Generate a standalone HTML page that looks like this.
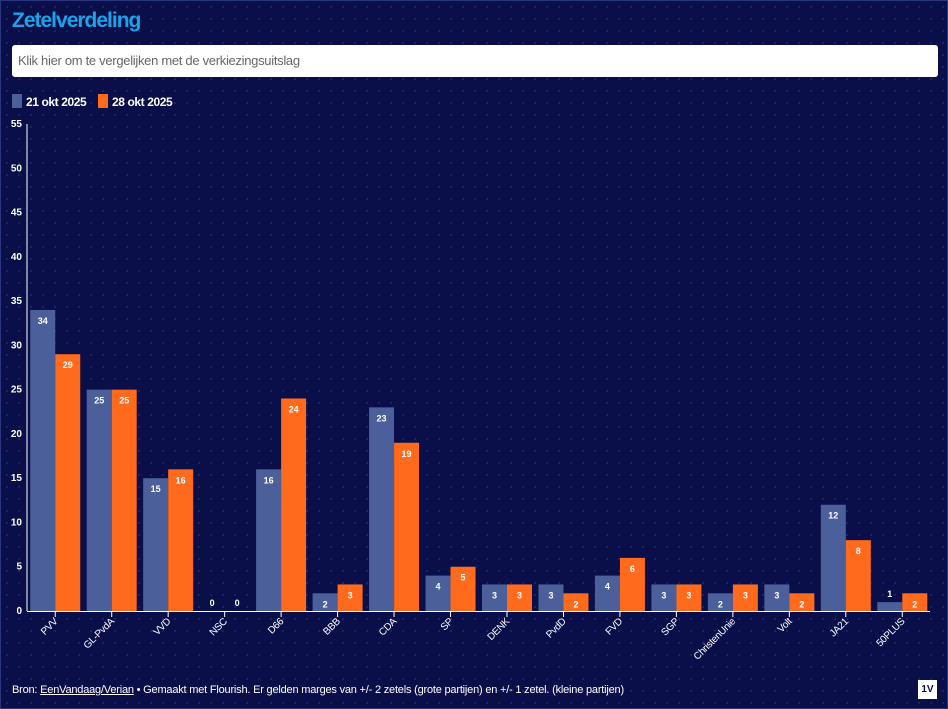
<!DOCTYPE html>
<html><head><meta charset="utf-8"><style>
html,body{margin:0;padding:0}
body{width:948px;height:709px;background:#0b1150;overflow:hidden;font-family:"Liberation Sans",sans-serif;position:relative}
.frame{position:absolute;left:0;top:0;width:946px;height:707px;border:1px solid #2a3580;
background-color:#0a0f4a;background-image:radial-gradient(circle,#1b2468 1px,transparent 1.2px);background-size:12px 12px}
h1{position:absolute;left:12px;top:9px;margin:0;font-size:21px;font-weight:bold;color:#1aa3e8;letter-spacing:-1px}
.box{position:absolute;left:12px;top:45px;width:926px;height:32px;background:#fff;border-radius:3px;color:#666;font-size:13px;letter-spacing:-0.3px;line-height:32px;padding-left:6px;box-sizing:border-box}
.leg{position:absolute;top:94px;color:#fff;font-size:12px;font-weight:bold;letter-spacing:-0.4px}
.sw{display:inline-block;width:10px;height:14px;vertical-align:-2px;margin-right:4px}
.foot{position:absolute;left:12px;top:684px;color:#fff;font-size:11px;letter-spacing:-0.2px}
.logo{position:absolute;left:918px;top:680px;width:19px;height:19px;background:#fff;color:#0a0f4c;font-size:10px;font-weight:bold;text-align:center;line-height:19px}
</style></head><body>
<div class="frame"></div>
<h1>Zetelverdeling</h1>
<div class="box">Klik hier om te vergelijken met de verkiezingsuitslag</div>
<div class="leg" style="left:12px"><span class="sw" style="background:#4b5f9a"></span>21 okt 2025</div>
<div class="leg" style="left:98px"><span class="sw" style="background:#ff6a1c"></span>28 okt 2025</div>
<svg width="948" height="709" style="position:absolute;left:0;top:0" font-family="Liberation Sans, sans-serif">
<g id="c"></g>
</svg>
<div class="foot">Bron: <u>EenVandaag/Verian</u> • Gemaakt met Flourish. Er gelden marges van +/- 2 zetels (grote partijen) en +/- 1 zetel. (kleine partijen)</div>
<div class="logo">1V</div>
<script>
var d=[["PVV",34,29],["GL-PvdA",25,25],["VVD",15,16],["NSC",0,0],["D66",16,24],["BBB",2,3],["CDA",23,19],["SP",4,5],["DENK",3,3],["PvdD",3,2],["FVD",4,6],["SGP",3,3],["ChristenUnie",2,3],["Volt",3,2],["JA21",12,8],["50PLUS",1,2]];
var y0=611,k=487/55,x0=27,sp=56.47,s="";
for(var v=0;v<=55;v+=5){var y=y0-v*k;s+='<text x="22" y="'+(y+3)+'" fill="#fff" font-size="10" font-weight="bold" text-anchor="end">'+v+'</text>';}
s+='<line x1="27" y1="124" x2="27" y2="611" stroke="#fff" stroke-width="1"/>';
s+='<line x1="27" y1="611.5" x2="930" y2="611.5" stroke="#fff" stroke-width="1"/>';
d.forEach(function(r,i){var c=x0+sp*i+sp/2;
[[r[1],c-25,"#4b5f9a"],[r[2],c,"#ff6a1c"]].forEach(function(b){var h=b[0]*k,y=y0-h;
s+='<rect x="'+b[1]+'" y="'+y+'" width="25" height="'+h+'" fill="'+b[2]+'"/>';
var ly=h>14?y+14:y-5;
s+='<text x="'+(b[1]+12.5)+'" y="'+ly+'" fill="#fff" font-size="9" font-weight="bold" text-anchor="middle">'+b[0]+'</text>';});
s+='<line x1="'+c+'" y1="611" x2="'+c+'" y2="617" stroke="#fff"/>';
s+='<text transform="translate('+(c+3)+',622) rotate(-45)" fill="#fff" font-size="10" text-anchor="end" letter-spacing="-0.3">'+r[0]+'</text>';});
document.getElementById("c").innerHTML=s;
</script>
</body></html>
